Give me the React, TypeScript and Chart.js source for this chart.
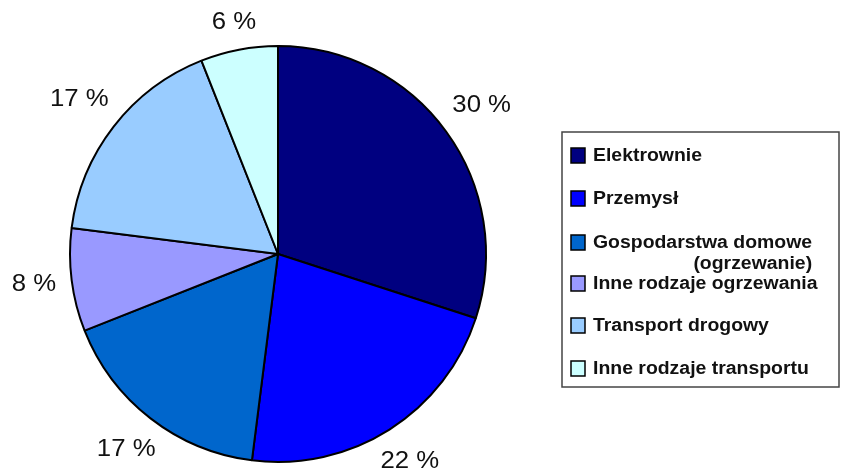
import React, { useEffect, useRef } from "react";
import { Chart, registerables } from "chart.js";

Chart.register(...registerables);

const categories = [
  "Elektrownie",
  "Przemysł",
  "Gospodarstwa domowe (ogrzewanie)",
  "Inne rodzaje ogrzewania",
  "Transport drogowy",
  "Inne rodzaje transportu",
];
const legendLines = [
  ["Elektrownie"],
  ["Przemysł"],
  ["Gospodarstwa domowe", "(ogrzewanie)"],
  ["Inne rodzaje ogrzewania"],
  ["Transport drogowy"],
  ["Inne rodzaje transportu"],
];
const values = [30, 22, 17, 8, 17, 6];
const colors = ["#000080", "#0000FF", "#0066CC", "#9999FF", "#99CCFF", "#CCFFFF"];

const FONT = "'Liberation Sans', Arial, sans-serif";
const SX = 1.12;

const labelPlugin = {
  id: "pctLabels",
  afterDatasetsDraw(chart: any) {
    const ctx = chart.ctx;
    const meta = chart.getDatasetMeta(0);
    ctx.save();
    ctx.font = `23px ${FONT}`;
    ctx.fillStyle = "#111";
    ctx.textAlign = "center";
    ctx.textBaseline = "middle";
    meta.data.forEach((arc: any, i: number) => {
      const p = arc.getProps(["x", "y", "startAngle", "endAngle", "outerRadius"], true);
      const mid = (p.startAngle + p.endAngle) / 2;
      const txt = `${values[i]} %`;
      const w = ctx.measureText(txt).width * SX;
      const h = 17;
      const c = Math.cos(mid), s = Math.sin(mid);
      const d = p.outerRadius + 15 + (w / 2) * Math.abs(c) + (h / 2) * Math.abs(s);
      const x = p.x + c * d;
      const y = p.y + s * d;
      ctx.save();
      ctx.translate(x, y);
      ctx.scale(SX, 1);
      ctx.fillText(txt, 0, 0);
      ctx.restore();
    });
    ctx.restore();
  },
};

const legendPlugin = {
  id: "boxLegend",
  afterDraw(chart: any) {
    const ctx = chart.ctx;
    const bx = 562, by = 132, bw = 277, bh = 255;
    ctx.save();
    ctx.strokeStyle = "#444";
    ctx.lineWidth = 1.5;
    ctx.strokeRect(bx, by, bw, bh);
    const rows = [155, 198, 242, 283, 325, 368];
    ctx.font = `bold 17.5px ${FONT}`;
    ctx.textBaseline = "middle";
    const lsx = 1.11;
    legendLines.forEach((lines, i) => {
      const y = rows[i];
      ctx.fillStyle = colors[i];
      ctx.fillRect(571, y - 7, 14, 15);
      ctx.strokeStyle = "#000";
      ctx.lineWidth = 1.5;
      ctx.strokeRect(571, y - 7, 14, 15);
      ctx.fillStyle = "#111";
      const firstW = ctx.measureText(lines[0]).width * lsx;
      lines.forEach((ln, j) => {
        const lw = ctx.measureText(ln).width * lsx;
        const x = j === 0 ? 593 : 593 + firstW - lw;
        ctx.save();
        ctx.translate(x, y + 1 + j * 21);
        ctx.scale(lsx, 1);
        ctx.textAlign = "left";
        ctx.fillText(ln, 0, 0);
        ctx.restore();
      });
    });
    ctx.restore();
  },
};

export default function App() {
  const ref = useRef<HTMLCanvasElement>(null);
  useEffect(() => {
    if (!ref.current) return;
    const chart = new Chart(ref.current, {
      type: "pie",
      data: {
        labels: categories,
        datasets: [
          {
            data: values,
            backgroundColor: colors,
            borderColor: "#000",
            borderWidth: 2,
          },
        ],
      },
      options: {
        responsive: false,
        animation: false,
        layout: { padding: { left: 69, right: 359, top: 45, bottom: 6 } },
        plugins: { legend: { display: false }, tooltip: { enabled: false } },
      },
      plugins: [labelPlugin, legendPlugin],
    });
    return () => chart.destroy();
  }, []);
  return (
    <div style={{ position: "fixed", left: 0, top: 0, width: 846, height: 469, background: "#fff" }}>
      <canvas ref={ref} width={846} height={469} />
    </div>
  );
}
